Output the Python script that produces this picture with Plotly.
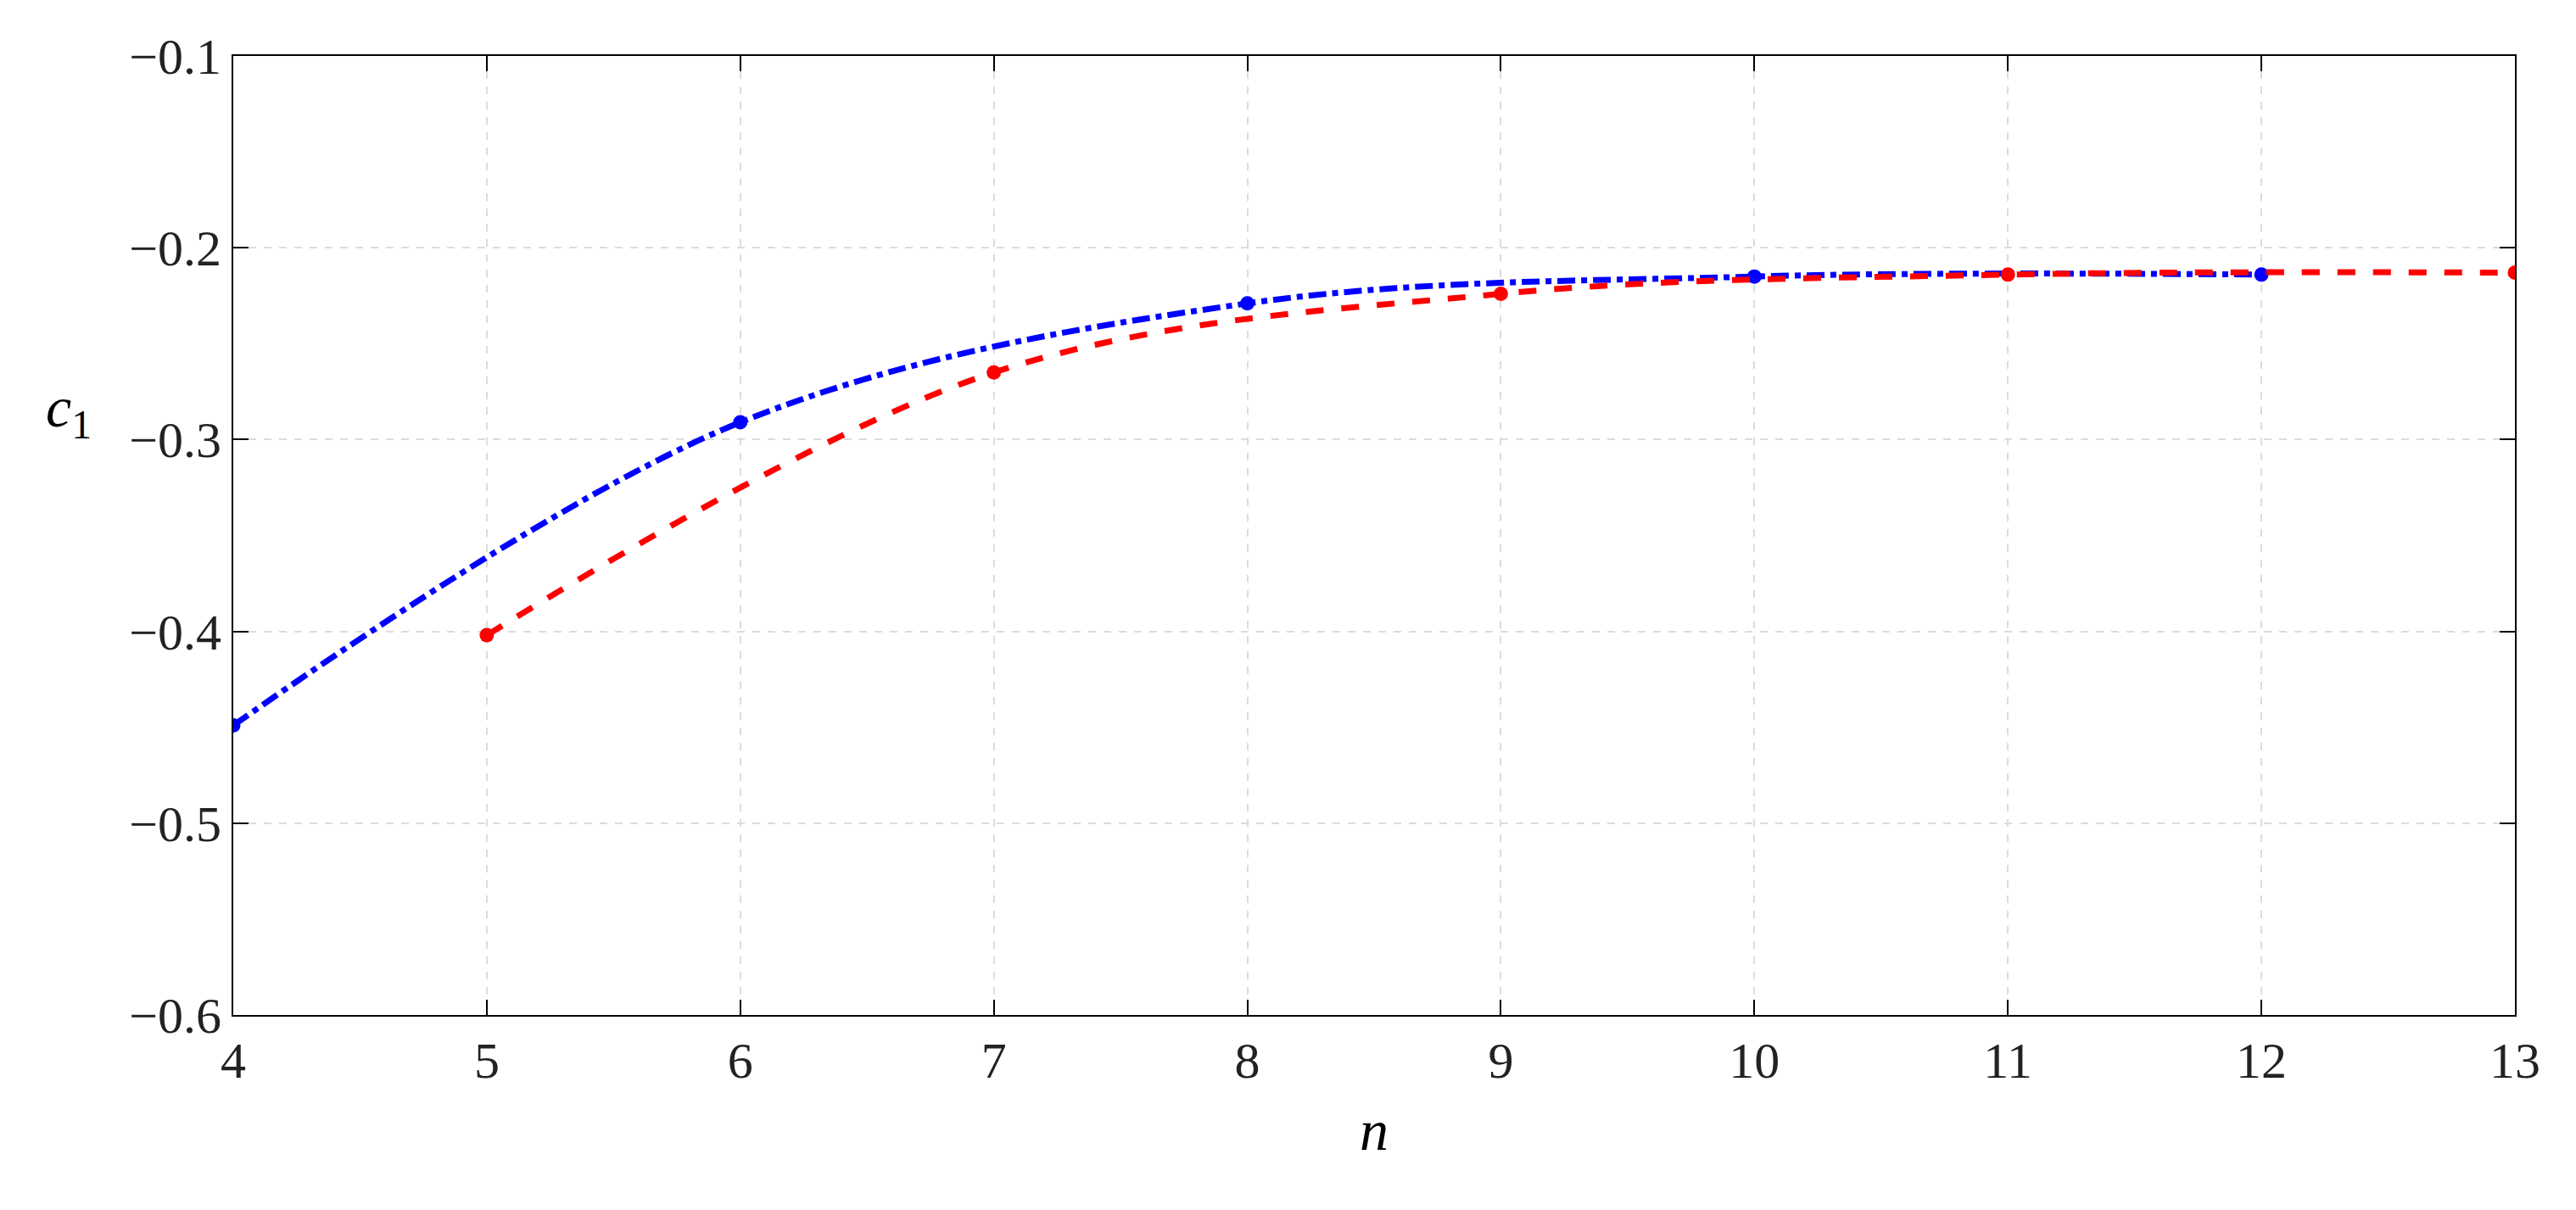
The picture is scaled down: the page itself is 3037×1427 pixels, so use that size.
import plotly.graph_objects as go

n_blue = [4, 6, 8, 10, 12]
c_blue = [-0.449, -0.291, -0.229, -0.215, -0.214]
n_red = [5, 7, 9, 11, 13]
c_red = [-0.402, -0.265, -0.224, -0.214, -0.213]
x_ticks = [4, 5, 6, 7, 8, 9, 10, 11, 12, 13]
y_ticks = [-0.6, -0.5, -0.4, -0.3, -0.2, -0.1]

fig = go.Figure()
fig.add_trace(go.Scatter(x=n_blue, y=c_blue, mode="lines+markers",
    line=dict(color="#0000ff", width=7, dash="dashdot", shape="spline"),
    marker=dict(size=17, color="#0000ff")))
fig.add_trace(go.Scatter(x=n_red, y=c_red, mode="lines+markers",
    line=dict(color="#ff0000", width=7, dash="dash", shape="spline"),
    marker=dict(size=17, color="#ff0000")))

ax = dict(showline=True, linecolor="black", linewidth=2, mirror="ticks",
          ticks="inside", ticklen=18, tickwidth=2, tickcolor="black",
          showgrid=True, gridcolor="#dcdcdc", griddash="dash", gridwidth=2,
          zeroline=False, tickfont=dict(family="Liberation Serif", size=60, color="#222"))
fig.update_xaxes(**ax, range=[4, 13], tickvals=x_ticks,
    title=dict(text="<i>n</i>", font=dict(family="Liberation Serif", size=68, color="black"), standoff=25))
fig.update_yaxes(**ax, range=[-0.6, -0.1], tickvals=y_ticks,
    ticktext=["\u22120.6", "\u22120.5", "\u22120.4", "\u22120.3", "\u22120.2", "\u22120.1"])
fig.add_annotation(text="<i>c</i><sub>1</sub>", xref="paper", yref="paper", x=-0.083, y=0.63,
    showarrow=False, font=dict(family="Liberation Serif", size=68, color="black"))
fig.update_layout(width=3037, height=1427, showlegend=False,
    plot_bgcolor="white", paper_bgcolor="white",
    margin=dict(l=267, r=80, t=58, b=238))
fig.write_html("out.html")
